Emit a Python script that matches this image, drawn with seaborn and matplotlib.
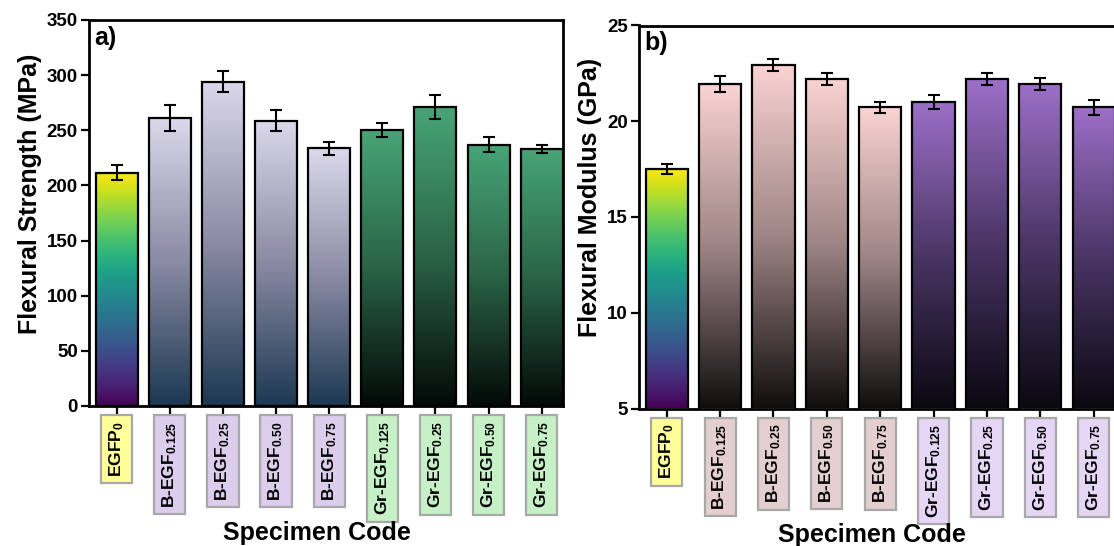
import numpy as np
import pandas as pd
import matplotlib
matplotlib.use("Agg")
import matplotlib.pyplot as plt
from matplotlib.colors import LinearSegmentedColormap
import seaborn as sns

# ---------------- data ----------------
categories = ["EGFP0", "B-EGF0.125", "B-EGF0.25", "B-EGF0.50", "B-EGF0.75",
              "Gr-EGF0.125", "Gr-EGF0.25", "Gr-EGF0.50", "Gr-EGF0.75"]
tick_labels = [r"EGFP$_{0}$", r"B-EGF$_{0.125}$", r"B-EGF$_{0.25}$", r"B-EGF$_{0.50}$",
               r"B-EGF$_{0.75}$", r"Gr-EGF$_{0.125}$", r"Gr-EGF$_{0.25}$",
               r"Gr-EGF$_{0.50}$", r"Gr-EGF$_{0.75}$"]
groups = ["EGFP", "B", "B", "B", "B", "Gr", "Gr", "Gr", "Gr"]
strength = [211.5, 261, 294, 258.5, 233.5, 250.5, 271, 237, 233]
strength_err = [7, 12, 9.5, 9.5, 5.5, 6.5, 11, 6.5, 4]
modulus = [17.5, 21.95, 22.95, 22.2, 20.72, 21.0, 22.2, 21.95, 20.72]
modulus_err = [0.28, 0.42, 0.32, 0.32, 0.30, 0.35, 0.32, 0.30, 0.38]

# ---------------- style ----------------
sns.set_theme(style="ticks")
plt.rcParams["font.family"] = ["Liberation Sans", "DejaVu Sans"]
plt.rcParams["font.weight"] = "bold"
plt.rcParams["text.color"] = "black"
plt.rcParams["axes.labelcolor"] = "black"
plt.rcParams["xtick.color"] = "black"
plt.rcParams["ytick.color"] = "black"
plt.rcParams["mathtext.fontset"] = "custom"
plt.rcParams["mathtext.rm"] = "Liberation Sans:bold"
plt.rcParams["mathtext.it"] = "Liberation Sans:bold"
plt.rcParams["mathtext.bf"] = "Liberation Sans:bold"

cmaps_a = {
    "EGFP": plt.get_cmap("viridis"),
    "B": LinearSegmentedColormap.from_list("aB", ["#1c3852", "#8a8aa3", "#dbd8eb"]),
    "Gr": LinearSegmentedColormap.from_list("aG", ["#030907", "#2a6346", "#47a577"]),
}
cmaps_b = {
    "EGFP": plt.get_cmap("viridis"),
    "B": LinearSegmentedColormap.from_list("bB", ["#110e0e", "#9e8585", "#fbd3d3"]),
    "Gr": LinearSegmentedColormap.from_list("bG", ["#0a0810", "#4a3565", "#9d70c9"]),
}
box_a = {"EGFP": "#ffff99", "B": "#dccdec", "Gr": "#c6f0c6"}
box_b = {"EGFP": "#ffff99", "B": "#e3cfcf", "Gr": "#e6d6f6"}

W, H = 1114, 546
fig = plt.figure(figsize=(W / 100, H / 100), dpi=100)
axA = fig.add_axes([89 / W, 1 - 406 / H, 474 / W, 386 / H])
axB = fig.add_axes([639 / W, 1 - 408.5 / H, 476 / W, 383 / H])


def draw(ax, vals, errs, ylim, yticks, ylabel, cmaps, boxes, letter, ylab_x, xlab_xy):
    df = pd.DataFrame({"Specimen": categories, "Value": vals})
    sns.barplot(data=df, x="Specimen", y="Value", ax=ax, color="white",
                errorbar=None, width=0.79, edgecolor="black", linewidth=1.6)
    ax.set_ylim(*ylim)
    ax.set_xlim(-0.52, 8.4)
    grad = np.linspace(0, 1, 256).reshape(-1, 1)
    for patch, grp in zip(ax.patches, groups):
        x0 = patch.get_x()
        w = patch.get_width()
        top = patch.get_y() + patch.get_height()
        ax.imshow(grad, extent=[x0, x0 + w, ylim[0], top], origin="lower",
                  aspect="auto", cmap=cmaps[grp], zorder=1.5, interpolation="bilinear")
        patch.set_facecolor("none")
        patch.set_zorder(2)
    ax.errorbar(np.arange(len(vals)), vals, yerr=errs, fmt="none", ecolor="black",
                elinewidth=1.5, capsize=4, capthick=1.5, zorder=3)
    ax.set_ylim(*ylim)
    ax.set_xlim(-0.52, 8.4)
    ax.set_yticks(yticks)
    ax.set_yticklabels([str(t) for t in yticks], fontsize=13.5, fontweight="bold")
    ax.set_xticks(np.arange(len(categories)))
    ax.set_xticklabels(tick_labels, rotation=90, fontsize=12.5, fontweight="bold")
    for lab, grp in zip(ax.get_xticklabels(), groups):
        lab.set_bbox(dict(boxstyle="square,pad=0.36", fc=boxes[grp], ec="#a8a8a8", lw=1.6))
    ax.tick_params(axis="both", direction="out", length=6, width=1.6, colors="black")
    ax.tick_params(axis="x", pad=5)
    ax.tick_params(axis="y", pad=2)
    for s in ax.spines.values():
        s.set_visible(True)
        s.set_linewidth(2)
        s.set_color("black")
    ax.set_ylabel(ylabel, fontsize=18, fontweight="bold")
    ax.yaxis.set_label_coords(ylab_x, 0.55)
    ax.set_xlabel("Specimen Code", fontsize=18, fontweight="bold")
    ax.xaxis.set_label_coords(*xlab_xy)
    ax.text(0.012, 0.985, letter, transform=ax.transAxes, fontsize=18,
            fontweight="bold", va="top", ha="left")


draw(axA, strength, strength_err, (0, 350), [0, 50, 100, 150, 200, 250, 300, 350],
     "Flexural Strength (MPa)", cmaps_a, box_a, "a)", -0.099, (0.48, -0.297))
draw(axB, modulus, modulus_err, (5, 25), [5, 10, 15, 20, 25],
     "Flexural Modulus (GPa)", cmaps_b, box_b, "b)", -0.078, (0.49, -0.298))

fig.savefig("out.png", dpi=100)
